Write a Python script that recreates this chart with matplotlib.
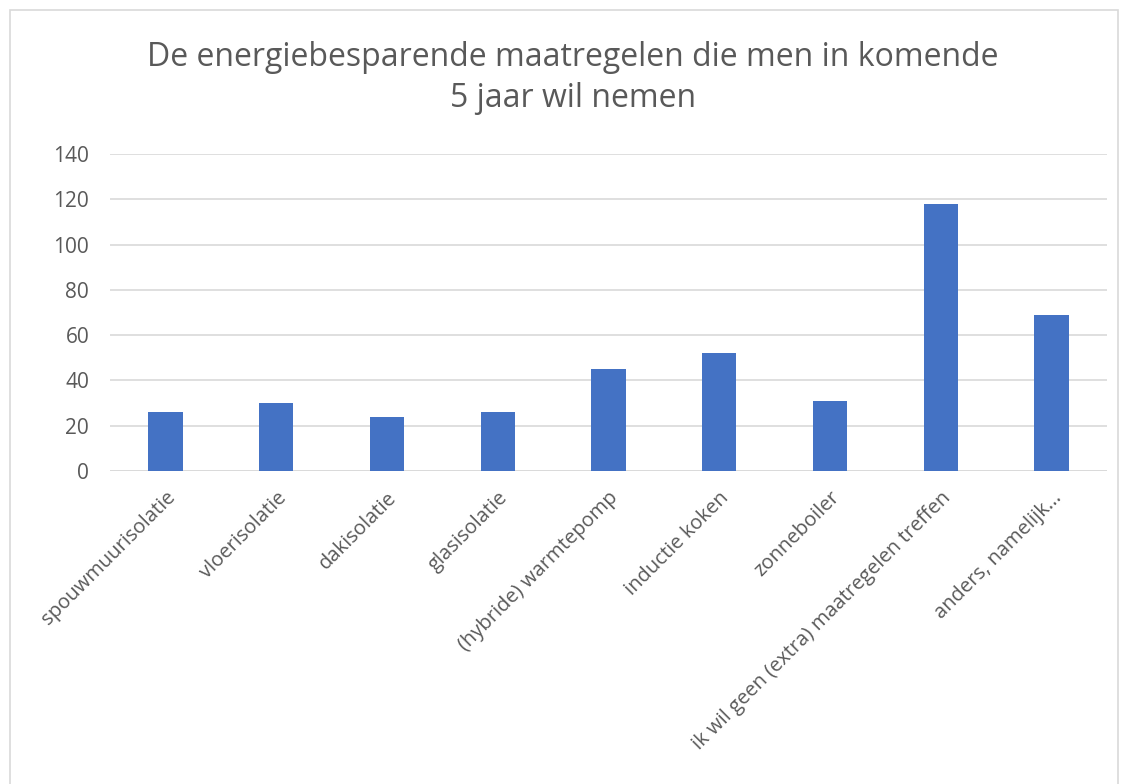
import matplotlib.pyplot as plt
from matplotlib.patches import Rectangle

categories = ["spouwmuurisolatie", "vloerisolatie", "dakisolatie", "glasisolatie",
              "(hybride) warmtepomp", "inductie koken", "zonneboiler",
              "ik wil geen (extra) maatregelen treffen", "anders, namelijk..."]
values = [26, 30, 24, 26, 45, 52, 31, 118, 69]
yticks = [0, 20, 40, 60, 80, 100, 120, 140]

plt.rcParams['font.family'] = ['Open Sans', 'DejaVu Sans']

fig = plt.figure(figsize=(11.24, 7.84), dpi=100)
ax = fig.add_axes([110 / 1124, 1 - 471 / 784, 997 / 1124, 317 / 784])

# chart frame like Excel
fig.patches.append(Rectangle((10 / 1124, -0.05), 1108 / 1124, 1 - 10 / 784 + 0.05,
                             transform=fig.transFigure, fill=False,
                             edgecolor="#D9D9D9", linewidth=1.2))

x = range(len(categories))
ax.bar(x, values, width=0.31, color="#4472C4", zorder=3)

ax.set_xlim(-0.5, len(categories) - 0.5)
ax.set_ylim(0, 140)
ax.set_yticks(yticks)
ax.yaxis.grid(True, color="#D9D9D9", linewidth=1.2, zorder=0)
for s in ax.spines.values():
    s.set_visible(False)
ax.axhline(0, color="#D9D9D9", linewidth=1.2, zorder=2)
ax.tick_params(axis="both", length=0, labelsize=15, labelcolor="#595959")
ax.tick_params(axis="y", pad=15)
ax.tick_params(axis="x", pad=12, labelsize=14.5)
ax.set_xticks(list(x))
ax.set_xticklabels(categories, rotation=45, ha="right", rotation_mode="anchor")

fig.text(573 / 1124, 1 - 78 / 784, "De energiebesparende maatregelen die men in komende\n5 jaar wil nemen",
         ha="center", va="center", fontsize=23, color="#595959", linespacing=1.3)

fig.savefig("out.png", dpi=100)
